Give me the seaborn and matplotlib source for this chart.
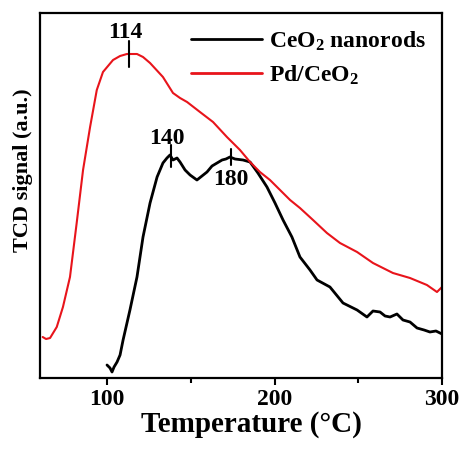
import numpy as np
import pandas as pd
import matplotlib
matplotlib.use("Agg")
import matplotlib.pyplot as plt
import seaborn as sns

# ---- data ----
pd_T = [61.6, 63.6, 66.0, 70.0, 73.7, 77.9, 81.9, 85.7, 89.9, 93.9, 97.6, 103.6,
        107.8, 111.9, 117.9, 121.5, 125.7, 133.4, 139.4, 143.6, 147.8, 155.5,
        163.3, 171.6, 179.4, 185.4, 191.3, 197.3, 203.3, 209.3, 215.2, 223.0,
        231.3, 239.1, 249.3, 258.8, 270.7, 280.9, 291.0, 297.0, 300.0]
pd_sig = [41, 39, 40, 51, 71, 101, 155, 208, 251, 288, 306, 318,
          322, 324, 324, 321, 315, 301, 285, 280, 276, 266,
          256, 241, 228, 216, 206, 198, 188, 178, 170, 158,
          145, 135, 126, 115, 105, 100, 93, 86, 91]

ce_T = [100.0, 101.8, 103.0, 104.2, 106.0, 107.8, 109.6, 113.7, 117.9, 121.5,
        125.7, 129.9, 133.4, 135.8, 137.6, 139.4, 141.8, 143.6, 146.6, 149.6,
        153.7, 156.7, 159.7, 162.7, 165.7, 168.7, 171.0, 173.4, 176.4, 181.2,
        185.4, 190.1, 195.5, 200.3, 205.1, 210.4, 215.2, 221.2, 225.4, 233.1,
        240.9, 249.3, 255.2, 258.8, 263.0, 266.0, 269.0, 273.1, 276.7, 280.9,
        285.1, 289.3, 292.8, 296.4, 300.0]
ce_sig = [13, 10, 6, 11, 16, 23, 38, 68, 101, 141,
          175, 201, 215, 220, 223, 218, 220, 216, 208, 203,
          198, 202, 206, 212, 215, 218, 219, 221, 219, 218,
          216, 205, 191, 175, 158, 141, 121, 108, 98, 91,
          75, 68, 61, 67, 66, 62, 61, 64, 58, 56,
          50, 48, 46, 47, 44]

series_names = ["CeO$_2$ nanorods", "Pd/CeO$_2$"]
series_colors = ["black", "#e8141b"]

peak_T = [113, 138, 174]
peak_labels = ["114", "140", "180"]
xticks = [100, 200, 300]

df = pd.concat([
    pd.DataFrame({"T": ce_T, "sig": ce_sig, "sample": series_names[0]}),
    pd.DataFrame({"T": pd_T, "sig": pd_sig, "sample": series_names[1]}),
])

sns.set_style("ticks")
plt.rcParams["font.family"] = ["Liberation Serif", "DejaVu Serif"]
plt.rcParams["font.weight"] = "bold"
plt.rcParams["text.color"] = "black"
plt.rcParams["axes.labelcolor"] = "black"
plt.rcParams["xtick.color"] = "black"
plt.rcParams["ytick.color"] = "black"
plt.rcParams["mathtext.fontset"] = "custom"
plt.rcParams["mathtext.rm"] = "Liberation Serif:bold"
plt.rcParams["mathtext.it"] = "Liberation Serif:bold"
plt.rcParams["mathtext.bf"] = "Liberation Serif:bold"
plt.rcParams["mathtext.default"] = "rm"

fig = plt.figure(figsize=(4.66, 4.5), dpi=100)
ax = fig.add_axes([40 / 466, 72 / 450, 402 / 466, 365 / 450])

sns.lineplot(data=df[df["sample"] == series_names[0]], x="T", y="sig",
             color=series_colors[0], lw=2.0, label=series_names[0], ax=ax,
             sort=False, estimator=None)
sns.lineplot(data=df[df["sample"] == series_names[1]], x="T", y="sig",
             color=series_colors[1], lw=1.5, label=series_names[1], ax=ax,
             sort=False, estimator=None)

# peak markers
curves = [(pd_T, pd_sig), (ce_T, ce_sig), (ce_T, ce_sig)]
half = [13, 11, 8]
text_dy = [22, 18, -22]
for (cT, cS), t, lab, h, dy in zip(curves, peak_T, peak_labels, half, text_dy):
    yv = np.interp(t, cT, cS)
    ax.plot([t, t], [yv - h, yv + h], color="black", lw=1.5)
    ax.text(t - 2 if lab != "180" else t, yv + dy, lab, ha="center", va="center",
            fontsize=17, fontweight="bold", color="black")

ax.set_xlim(60, 300)
ax.set_ylim(0, 365)
ax.set_xticks(xticks)
ax.set_xticks([150, 250], minor=True)
ax.set_yticks([])
ax.tick_params(axis="x", which="major", length=5, width=1.5, labelsize=17, pad=3,
               direction="out", colors="black")
ax.tick_params(axis="x", which="minor", length=3.5, width=1.5, direction="out")
for sp in ax.spines.values():
    sp.set_linewidth(1.6)
    sp.set_color("black")
    sp.set_visible(True)

ax.set_xlabel("Temperature (\u00b0C)", fontsize=21, fontweight="bold", color="black")
ax.xaxis.set_label_coords(0.527, -0.09)
ax.set_ylabel("TCD signal (a.u.)", fontsize=16, fontweight="bold", color="black")
ax.yaxis.set_label_coords(-0.017, 0.57)

leg = ax.legend(loc="upper right", frameon=False, fontsize=17, handlelength=3.0,
                handletextpad=0.3, labelspacing=0.45, borderaxespad=0.3,
                bbox_to_anchor=(1.0, 1.0))
for line in leg.get_lines():
    line.set_linewidth(2.0)
for txt in leg.get_texts():
    txt.set_color("black")

fig.savefig("out.png", dpi=100)
